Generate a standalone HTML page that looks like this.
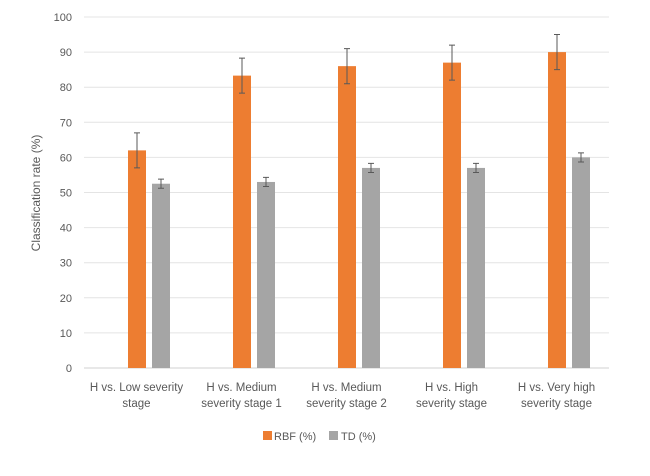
<!DOCTYPE html>
<html><head><meta charset="utf-8"><style>
body{margin:0;background:#fff;}
svg{font-family:"Liberation Sans",sans-serif;}
</style></head><body>
<svg id="chart" width="650" height="471" viewBox="0 0 650 471">
<g id="grid"></g><g id="bars"></g><g id="labels"></g>
<text transform="translate(40,193) rotate(-90)" text-anchor="middle" font-size="12" fill="#595959">Classification rate (%)</text>
<g>
<rect x="263" y="431" width="9" height="9" fill="#ED7D31"/>
<text x="274" y="440" font-size="11" fill="#595959">RBF (%)</text>
<rect x="329" y="431" width="9" height="9" fill="#A5A5A5"/>
<text x="341" y="440" font-size="11" fill="#595959">TD (%)</text>
</g>
</svg>
<script>
const categories=[["H vs. Low severity","stage"],["H vs. Medium","severity stage 1"],["H vs. Medium","severity stage 2"],["H vs. High","severity stage"],["H vs. Very high","severity stage"]];
const rbf=[62,83.3,86,87,90];
const rbfErr=[5,5,5,5,5];
const td=[52.5,53,57,57,60];
const tdErr=[1.3,1.3,1.3,1.3,1.3];
const yTicks=[0,10,20,30,40,50,60,70,80,90,100];
const NS="http://www.w3.org/2000/svg";
const x0=84,x1=609,y0=368,yTop=17;
const y=v=>y0-(v/100)*(y0-yTop);
const gw=(x1-x0)/categories.length;
function mk(t,a,p){const e=document.createElementNS(NS,t);for(const k in a)e.setAttribute(k,a[k]);p.appendChild(e);return e;}
const grid=document.getElementById('grid'),bars=document.getElementById('bars'),labels=document.getElementById('labels');
yTicks.forEach(t=>{
 const l=mk('line',{x1:x0,x2:x1,y1:y(t),y2:y(t),stroke:t===0?'#d0d0d0':'#e4e4e4','stroke-width':1},grid);
 
 
 const tx=mk('text',{x:72,y:y(t)+4,'text-anchor':'end','font-size':11,fill:'#595959'},grid);
 tx.textContent=t;
 
 
});
function bar(v,err,xl,color,name){
 const r=mk('rect',{x:xl,y:y(v),width:18,height:y0-y(v),fill:color},bars);
 
 
 const cx=xl+9;
 const e=mk('path',{d:`M${cx},${y(v+err)}V${y(v-err)}M${cx-3},${y(v+err)}H${cx+3}M${cx-3},${y(v-err)}H${cx+3}`,stroke:'#595959','stroke-width':1,fill:'none'},bars);
 
 
}
categories.forEach((c,i)=>{
 const gx=x0+i*gw;
 bar(rbf[i],rbfErr[i],gx+44,'#ED7D31','bar-rbf-'+(i+1));
 bar(td[i],tdErr[i],gx+68,'#A5A5A5','bar-td-'+(i+1));
 c.forEach((line,j)=>{
  const t=mk('text',{x:gx+gw/2,y:391+j*16,'text-anchor':'middle','font-size':11.5,fill:'#595959'},labels);
  t.textContent=line;
  
  
 });
});
</script>
</body></html>
